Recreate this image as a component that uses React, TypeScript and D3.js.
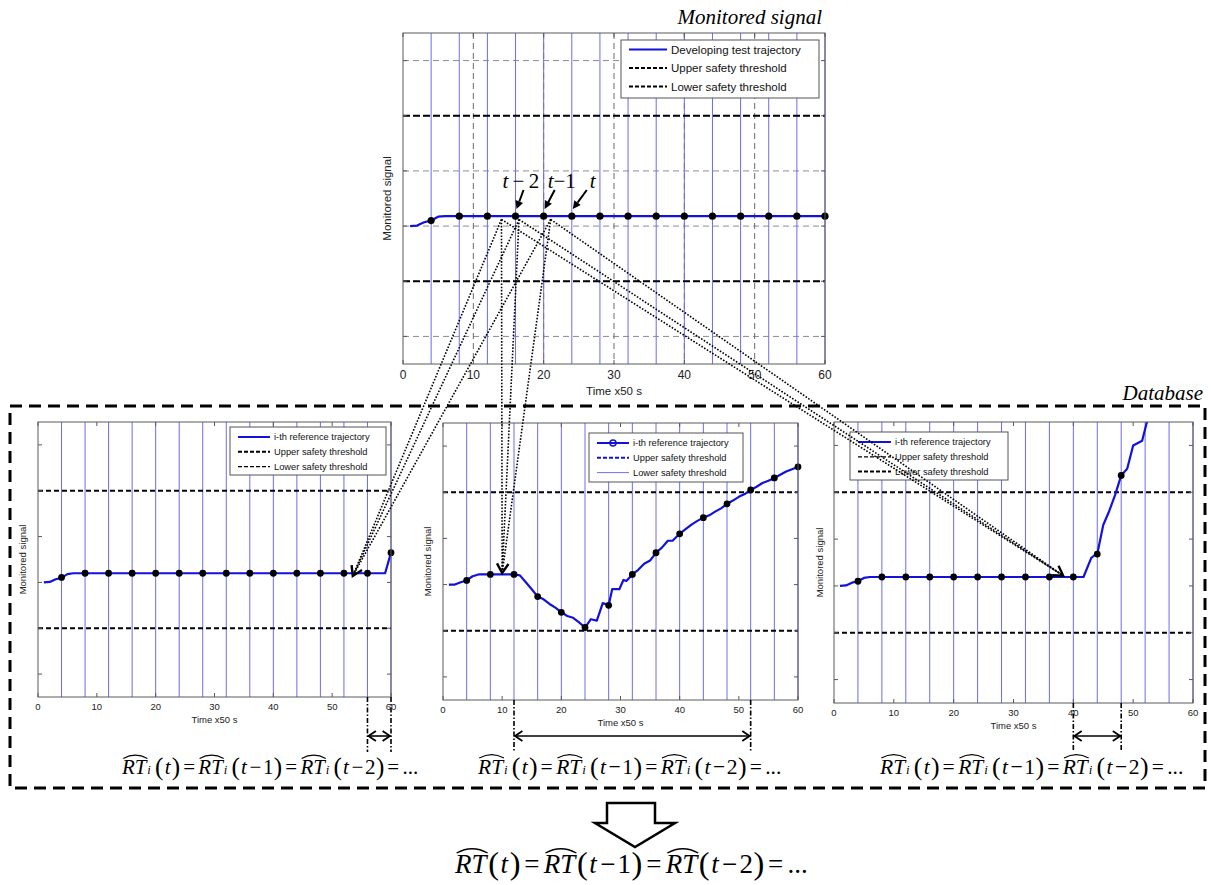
import React, { useEffect, useRef } from "react";
import * as d3 from "d3";

const W = 1211;
const H = 885;
const SANS = "'Liberation Sans', Arial, sans-serif";
const SERIF = "'Liberation Serif', 'Times New Roman', serif";
const BLUE = "#1212dc";
const GRID_BLUE = "#6c6cf0";

// ---------- shared axes data ----------
const X_TICKS = [0, 10, 20, 30, 40, 50, 60];
const Y_TICKS = [-2, -1, 0, 1, 2, 3];
const Y_DOMAIN: [number, number] = [-2.5, 3.5];
const T_DOMAIN: [number, number] = [0, 60];
const SAMPLE_TIMES = [4, 8, 12, 16, 20, 24, 28, 32, 36, 40, 44, 48, 52, 56, 60];
const UPPER_THRESHOLD = 2;
const LOWER_THRESHOLD = -1;

// ---------- developing test trajectory (top) ----------
const testT = [1, 2, 3, 4, 5, 6, 60];
const testV = [0, 0.01, 0.07, 0.1, 0.17, 0.18, 0.18];
const testDotT = SAMPLE_TIMES;
const testDotV = [0.1, 0.18, 0.18, 0.18, 0.18, 0.18, 0.18, 0.18, 0.18, 0.18, 0.18, 0.18, 0.18, 0.18, 0.18];

// ---------- reference trajectory A (bottom left) ----------
const refAT = [1, 2, 3, 4, 5, 6, 59, 60];
const refAV = [0, 0.01, 0.07, 0.1, 0.18, 0.2, 0.2, 0.65];
const refADotT = SAMPLE_TIMES;
const refADotV = [0.11, 0.2, 0.2, 0.2, 0.2, 0.2, 0.2, 0.2, 0.2, 0.2, 0.2, 0.2, 0.2, 0.2, 0.65];

// ---------- reference trajectory B (bottom middle) ----------
const refBT = [1, 2, 3, 4, 5, 6, 8, 10, 12, 13, 14, 15, 16, 17, 18, 19, 20, 21, 22, 23, 24, 25, 26, 27, 28, 28.6, 29.8, 30.5, 31, 32, 33, 34, 35, 36, 37, 38, 38.8, 40, 41, 42, 43, 44, 45, 46, 47, 48, 49, 50, 51, 52, 53, 54, 55, 56, 57, 58, 59, 60];
const refBV = [0, 0, 0.05, 0.09, 0.18, 0.22, 0.22, 0.22, 0.22, 0.2, 0.05, -0.1, -0.26, -0.32, -0.42, -0.5, -0.6, -0.68, -0.72, -0.82, -0.93, -0.75, -0.78, -0.4, -0.45, -0.1, -0.1, 0.1, 0.08, 0.22, 0.32, 0.45, 0.52, 0.69, 0.8, 0.95, 0.95, 1.1, 1.2, 1.3, 1.38, 1.45, 1.5, 1.58, 1.65, 1.75, 1.82, 1.9, 1.96, 2.05, 2.12, 2.2, 2.25, 2.31, 2.38, 2.45, 2.5, 2.55];
const refBDotT = SAMPLE_TIMES;
const refBDotV = [0.09, 0.22, 0.22, -0.26, -0.6, -0.93, -0.45, 0.22, 0.69, 1.1, 1.45, 1.75, 2.05, 2.31, 2.55];

// ---------- reference trajectory C (bottom right) ----------
const refCT = [1, 2, 3, 4, 5, 6, 41.7, 43, 43.6, 44, 45, 46, 47, 48, 49, 50, 51.5, 52.3, 53];
const refCV = [0, 0.01, 0.07, 0.1, 0.17, 0.19, 0.19, 0.6, 0.66, 0.68, 1.3, 1.6, 1.95, 2.36, 2.5, 3.0, 3.1, 3.5, 3.9];
const refCDotT = [4, 8, 12, 16, 20, 24, 28, 32, 36, 40, 44, 48];
const refCDotV = [0.1, 0.19, 0.19, 0.19, 0.19, 0.19, 0.19, 0.19, 0.19, 0.19, 0.68, 2.36];

// ---------- matching spans & connectors ----------
const matchStart = [56, 12, 40];
const matchEnd = [60, 52, 48];
const connectorOriginT = [14, 16.5, 21];
const connectorOriginV = 0.12;
const connectorTargetT = [53.5, 10, 38.3];
const connectorTargetV = [0.14, 0.25, 0.22];

// time-step annotations on the monitored signal
const stepT = [16, 20, 24];
const stepLabel = ["2", "1", ""];

type LegendItem = { label: string; color: string; width: number; dash?: string; marker?: boolean };

type Panel = {
  left: number; right: number; top: number; bottom: number;
  grid: boolean; tickFont: number; labelFont: number; yLabelX: number;
  trajT: number[]; trajV: number[]; dotT: number[]; dotV: number[];
  legend: { x: number; y: number; w: number; h: number; row0: number; row: number; font: number; sample: number; items: LegendItem[] };
  thrWidth: [number, number]; thrDash: string; dotR: number;
};

const panels: Panel[] = [
  {
    left: 403, right: 825, top: 33, bottom: 364, grid: true, tickFont: 12, labelFont: 11.5, yLabelX: 391,
    trajT: testT, trajV: testV, dotT: testDotT, dotV: testDotV, thrWidth: [2.2, 2.2], thrDash: "7,3", dotR: 3.6,
    legend: {
      x: 621, y: 40, w: 198, h: 58, row0: 9.5, row: 18.5, font: 11.5, sample: 38,
      items: [
        { label: "Developing test trajectory", color: BLUE, width: 2 },
        { label: "Upper safety threshold", color: "#000", width: 2, dash: "4,2" },
        { label: "Lower safety threshold", color: "#000", width: 2, dash: "4,2" },
      ],
    },
  },
  {
    left: 38, right: 391, top: 422, bottom: 697, grid: false, tickFont: 9.5, labelFont: 9.5, yLabelX: 26,
    trajT: refAT, trajV: refAV, dotT: refADotT, dotV: refADotV, thrWidth: [2, 2], thrDash: "5,3", dotR: 3.4,
    legend: {
      x: 230, y: 427, w: 156, h: 48, row0: 10, row: 14.8, font: 9.3, sample: 32,
      items: [
        { label: "i-th reference trajectory", color: BLUE, width: 2 },
        { label: "Upper safety threshold", color: "#000", width: 2, dash: "4,2" },
        { label: "Lower safety threshold", color: "#000", width: 1.3, dash: "4,2" },
      ],
    },
  },
  {
    left: 443, right: 798, top: 423, bottom: 700, grid: false, tickFont: 9.5, labelFont: 9.5, yLabelX: 431,
    trajT: refBT, trajV: refBV, dotT: refBDotT, dotV: refBDotV, thrWidth: [2, 2], thrDash: "5,3", dotR: 3.4,
    legend: {
      x: 589, y: 433, w: 154, h: 49, row0: 10, row: 14.8, font: 9.3, sample: 32,
      items: [
        { label: "i-th reference trajectory", color: BLUE, width: 2, marker: true },
        { label: "Upper safety threshold", color: BLUE, width: 2, dash: "4,2" },
        { label: "Lower safety threshold", color: "#4a4af0", width: 0.8 },
      ],
    },
  },
  {
    left: 834, right: 1193, top: 422, bottom: 703, grid: false, tickFont: 9.5, labelFont: 9.5, yLabelX: 823,
    trajT: refCT, trajV: refCV, dotT: refCDotT, dotV: refCDotV, thrWidth: [2, 2], thrDash: "5,3", dotR: 3.4,
    legend: {
      x: 850, y: 432, w: 158, h: 48, row0: 10, row: 14.8, font: 9.3, sample: 33,
      items: [
        { label: "i-th reference trajectory", color: BLUE, width: 2 },
        { label: "Upper safety threshold", color: "#000", width: 1.3, dash: "4,2" },
        { label: "Lower safety threshold", color: "#000", width: 2, dash: "4,2" },
      ],
    },
  },
];

function chevron(g: any, tx: number, ty: number, ang: number, len: number, half: number, w: number) {
  const p1 = [tx - len * Math.cos(ang - half), ty - len * Math.sin(ang - half)];
  const p2 = [tx - len * Math.cos(ang + half), ty - len * Math.sin(ang + half)];
  g.append("path")
    .attr("d", `M${p1[0]},${p1[1]}L${tx},${ty}L${p2[0]},${p2[1]}`)
    .attr("fill", "none").attr("stroke", "#000").attr("stroke-width", w)
    .attr("stroke-linejoin", "miter");
}

function drawPanel(svg: any, p: Panel, idx: number) {
  const x = d3.scaleLinear().domain(T_DOMAIN).range([p.left, p.right]);
  const y = d3.scaleLinear().domain(Y_DOMAIN).range([p.bottom, p.top]);
  const g = svg.append("g");
  const clipId = `clip${idx}`;
  svg.append("defs").append("clipPath").attr("id", clipId).append("rect")
    .attr("x", p.left).attr("y", p.top).attr("width", p.right - p.left).attr("height", p.bottom - p.top);

  g.append("rect").attr("x", p.left).attr("y", p.top).attr("width", p.right - p.left)
    .attr("height", p.bottom - p.top).attr("fill", "#fff");

  if (p.grid) {
    g.selectAll(".gy").data(Y_TICKS).join("line")
      .attr("x1", p.left).attr("x2", p.right).attr("y1", (d: number) => y(d)).attr("y2", (d: number) => y(d))
      .attr("stroke", "#8c8c8c").attr("stroke-width", 1).attr("stroke-dasharray", "6,4");
    g.selectAll(".gx").data(X_TICKS.slice(1, -1)).join("line")
      .attr("y1", p.top).attr("y2", p.bottom).attr("x1", (d: number) => x(d)).attr("x2", (d: number) => x(d))
      .attr("stroke", "#6a6a6a").attr("stroke-width", 1).attr("stroke-dasharray", "6,4");
  }

  g.selectAll(".bv").data(SAMPLE_TIMES).join("line")
    .attr("y1", p.top).attr("y2", p.bottom).attr("x1", (d: number) => x(d)).attr("x2", (d: number) => x(d))
    .attr("stroke", GRID_BLUE).attr("stroke-width", 1);

  [UPPER_THRESHOLD, LOWER_THRESHOLD].forEach((v, i) => {
    g.append("line").attr("x1", p.left).attr("x2", p.right).attr("y1", y(v)).attr("y2", y(v))
      .attr("stroke", "#000").attr("stroke-width", p.thrWidth[i]).attr("stroke-dasharray", p.thrDash);
  });

  // legend
  const L = p.legend;
  const lg = g.append("g");
  lg.append("rect").attr("x", L.x).attr("y", L.y).attr("width", L.w).attr("height", L.h)
    .attr("fill", "#fff").attr("stroke", "#555").attr("stroke-width", 1);
  L.items.forEach((it, i) => {
    const ry = L.y + L.row0 + i * L.row;
    lg.append("line").attr("x1", L.x + 8).attr("x2", L.x + 8 + L.sample).attr("y1", ry).attr("y2", ry)
      .attr("stroke", it.color).attr("stroke-width", it.width).attr("stroke-dasharray", it.dash || null);
    if (it.marker) {
      lg.append("circle").attr("cx", L.x + 8 + L.sample / 2).attr("cy", ry).attr("r", 3)
        .attr("fill", "none").attr("stroke", it.color).attr("stroke-width", 1.5);
    }
    lg.append("text").attr("x", L.x + 12 + L.sample).attr("y", ry + L.font * 0.36)
      .attr("font-family", SANS).attr("font-size", L.font).attr("fill", "#111").text(it.label);
  });

  // trajectory
  const line = d3.line<number>().x((_, i) => x(p.trajT[i])).y((d) => y(d));
  g.append("path").attr("d", line(p.trajV)).attr("fill", "none").attr("stroke", BLUE)
    .attr("stroke-width", 2.2).attr("clip-path", `url(#${clipId})`).attr("stroke-linejoin", "round");
  g.selectAll(".dot").data(p.dotV).join("circle")
    .attr("cx", (_: number, i: number) => x(p.dotT[i])).attr("cy", (d: number) => y(d))
    .attr("r", p.dotR).attr("fill", "#000");

  // frame and ticks
  g.append("rect").attr("x", p.left).attr("y", p.top).attr("width", p.right - p.left)
    .attr("height", p.bottom - p.top).attr("fill", "none").attr("stroke", "#5a5a5a").attr("stroke-width", 1);
  const tl = 4;
  X_TICKS.forEach((t) => {
    g.append("line").attr("x1", x(t)).attr("x2", x(t)).attr("y1", p.bottom).attr("y2", p.bottom - tl).attr("stroke", "#5a5a5a");
    g.append("line").attr("x1", x(t)).attr("x2", x(t)).attr("y1", p.top).attr("y2", p.top + tl).attr("stroke", "#5a5a5a");
    g.append("text").attr("x", x(t)).attr("y", p.bottom + p.tickFont + 3).attr("text-anchor", "middle")
      .attr("font-family", SANS).attr("font-size", p.tickFont).attr("fill", "#222").text(String(t));
  });
  Y_TICKS.forEach((v) => {
    g.append("line").attr("x1", p.left).attr("x2", p.left + tl).attr("y1", y(v)).attr("y2", y(v)).attr("stroke", "#5a5a5a");
    g.append("line").attr("x1", p.right).attr("x2", p.right - tl).attr("y1", y(v)).attr("y2", y(v)).attr("stroke", "#5a5a5a");
  });
  g.append("text").attr("x", (p.left + p.right) / 2).attr("y", p.bottom + p.tickFont + 3 + p.labelFont + 4)
    .attr("text-anchor", "middle").attr("font-family", SANS).attr("font-size", p.labelFont).attr("fill", "#222")
    .text("Time x50 s");
  g.append("text").attr("transform", `translate(${p.yLabelX},${(p.top + p.bottom) / 2}) rotate(-90)`)
    .attr("text-anchor", "middle").attr("font-family", SANS).attr("font-size", p.labelFont).attr("fill", "#222")
    .text("Monitored signal");
  return { x, y };
}

function drawEquation(svg: any, x0: number, base: number, F: number, sub: boolean) {
  const g = svg.append("g").attr("font-family", SERIF).attr("fill", "#000");
  let cx = x0;
  const put = (txt: string, o: { italic?: boolean; size?: number; gap?: number; hat?: boolean; dy?: number }) => {
    const size = o.size || F;
    const t = g.append("text").attr("x", cx).attr("y", base + (o.dy || 0)).attr("font-size", size)
      .attr("font-style", o.italic ? "italic" : "normal").text(txt);
    const w = (t.node() as SVGTextElement).getComputedTextLength();
    if (o.hat) {
      const yb = base - F * 0.74;
      const yt = yb - F * 0.2;
      const a = cx + F * 0.06;
      const b = cx + w + F * 0.04;
      g.append("path").attr("d", `M${a},${yb}Q${(a + b) / 2},${yt - F * 0.12} ${b},${yb}`)
        .attr("fill", "none").attr("stroke", "#000").attr("stroke-width", F * 0.05);
    }
    cx += w + (o.gap || 0);
  };
  const P = F * 1.2;
  const term = (k: string) => {
    put("RT", { italic: true, hat: true, gap: sub ? F * 0.04 : F * 0.06 });
    if (sub) put("i", { italic: true, size: F * 0.6, gap: F * 0.2 });
    put("(", { size: P, dy: F * 0.05, gap: F * 0.06 });
    put("t", { italic: true, gap: k ? F * 0.12 : F * 0.06 });
    if (k) {
      put("\u2212", { gap: F * 0.08 });
      put(k, { gap: F * 0.02 });
    }
    put(")", { size: P, dy: F * 0.05, gap: F * 0.14 });
  };
  const eq = () => put("=", { gap: F * 0.16 });
  term("");
  eq();
  term("1");
  eq();
  term("2");
  eq();
  put("...", {});
}

function Chart() {
  const ref = useRef<SVGSVGElement | null>(null);
  useEffect(() => {
    const svg = d3.select(ref.current);
    svg.selectAll("*").remove();
    svg.append("rect").attr("width", W).attr("height", H).attr("fill", "#fff");

    // Database box
    svg.append("rect").attr("x", 10).attr("y", 406).attr("width", 1195).attr("height", 382)
      .attr("fill", "none").attr("stroke", "#000").attr("stroke-width", 3).attr("stroke-dasharray", "12,7");
    svg.append("text").attr("x", 1203).attr("y", 400).attr("text-anchor", "end").attr("font-family", SERIF)
      .attr("font-style", "italic").attr("font-size", 21).text("Database");
    svg.append("text").attr("x", 822).attr("y", 24).attr("text-anchor", "end").attr("font-family", SERIF)
      .attr("font-style", "italic").attr("font-size", 21).text("Monitored signal");

    const scales = panels.map((p, i) => drawPanel(svg, p, i));
    const top = scales[0];

    // step annotations t-2, t-1, t
    const textDx = [-13, 4, 18];
    const tailDx = [8, 11, 15];
    stepT.forEach((t, i) => {
      const dx = top.x(t);
      const tx = svg.append("text").attr("x", dx + textDx[i]).attr("y", 188).attr("font-family", SERIF).attr("font-size", 21);
      tx.append("tspan").attr("font-style", "italic").text("t");
      if (stepLabel[i]) {
        tx.append("tspan").text(i === 0 ? "\u2009\u2212\u2009" : "\u2212");
        tx.append("tspan").text(stepLabel[i]);
      }
      const x1 = dx + tailDx[i], y1 = 190, x2 = dx + 1, y2 = 209;
      const ang = Math.atan2(y2 - y1, x2 - x1);
      const hl = 8, hw = 4;
      const bx = x2 - hl * Math.cos(ang), by = y2 - hl * Math.sin(ang);
      svg.append("line").attr("x1", x1).attr("y1", y1).attr("x2", bx).attr("y2", by).attr("stroke", "#000").attr("stroke-width", 2);
      svg.append("path").attr("d", `M${x2},${y2}L${bx + hw * Math.sin(ang)},${by - hw * Math.cos(ang)}L${bx - hw * Math.sin(ang)},${by + hw * Math.cos(ang)}Z`)
        .attr("fill", "#000");
    });

    // connectors
    const cg = svg.append("g");
    connectorTargetT.forEach((tt, k) => {
      const s = scales[k + 1];
      const txp = s.x(tt), typ = s.y(connectorTargetV[k]);
      let angSum = 0;
      connectorOriginT.forEach((ot) => {
        const ox = top.x(ot), oy = top.y(connectorOriginV);
        cg.append("line").attr("x1", ox).attr("y1", oy).attr("x2", txp).attr("y2", typ)
          .attr("stroke", "#000").attr("stroke-width", 1.6).attr("stroke-dasharray", "1.6,1.6");
        angSum += Math.atan2(typ - oy, txp - ox);
      });
      chevron(cg, txp, typ, angSum / connectorOriginT.length, 11, 0.55, 2.4);
    });

    // matching spans under bottom charts
    scales.slice(1).forEach((s, k) => {
      const p = panels[k + 1];
      const xa = s.x(matchStart[k]), xb = s.x(matchEnd[k]);
      [xa, xb].forEach((xx) => {
        svg.append("line").attr("x1", xx).attr("x2", xx).attr("y1", p.bottom).attr("y2", 752)
          .attr("stroke", "#000").attr("stroke-width", 1.6).attr("stroke-dasharray", "5,2,1.5,2");
      });
      svg.append("line").attr("x1", xa + 1).attr("x2", xb - 1).attr("y1", 736).attr("y2", 736)
        .attr("stroke", "#000").attr("stroke-width", 1.6);
      chevron(svg, xb - 1, 736, 0, 9, 0.6, 1.8);
      chevron(svg, xa + 1, 736, Math.PI, 9, 0.6, 1.8);
    });

    // equations
    drawEquation(svg, 122, 774, 21, true);
    drawEquation(svg, 478, 774, 21.5, true);
    drawEquation(svg, 880, 774, 21.5, true);

    // big hollow arrow
    svg.append("path").attr("d", "M607,803L655,803L655,823L675,823L635,847L595,823L607,823Z")
      .attr("fill", "#fff").attr("stroke", "#000").attr("stroke-width", 2.5).attr("stroke-linejoin", "miter");
    drawEquation(svg, 455, 873, 27, false);
  }, []);
  return <svg ref={ref} width={W} height={H} style={{ position: "absolute", left: 0, top: 0, display: "block" }} />;
}

export default function App() {
  return <Chart />;
}
